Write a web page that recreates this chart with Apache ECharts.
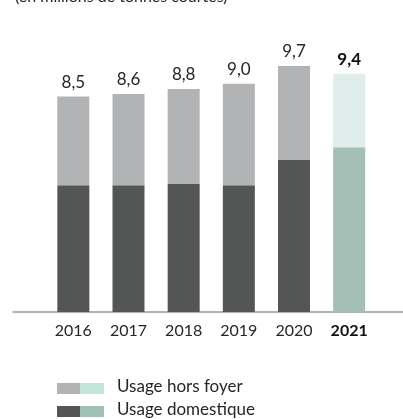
<!DOCTYPE html>
<html>
<head>
<meta charset="utf-8">
<script src="https://cdn.jsdelivr.net/npm/echarts@6/dist/echarts.min.js"></script>
<style>
  html, body { margin: 0; padding: 0; background: #ffffff; }
  #chart { width: 403px; height: 419px; }
</style>
</head>
<body>
<div id="chart"></div>
<script>
// Consommation en millions de tonnes courtes
const years = ['2016', '2017', '2018', '2019', '2020', '2021'];
const totals = [8.5, 8.6, 8.8, 9.0, 9.7, 9.4];
const domestique = [5.0, 5.0, 5.05, 5.0, 6.0, 6.5];
const horsFoyer = [3.5, 3.6, 3.75, 4.0, 3.7, 2.9];
const unitTitle = '(en millions de tonnes courtes)';
const nameHors = 'Usage hors foyer';
const nameDom = 'Usage domestique';

const FONT = 'Lato, "Open Sans", sans-serif';
const TEXT = '#262626';
const lastIdx = years.length - 1;

const COLORS = {
  dom: '#545655',
  hors: '#b2b3b5',
  dom21: '#a3bfb6',
  hors21: '#e0eeeb',
  legendHors21: '#c4e5dc',
  legendDom21: '#a1c1b7'
};

// Past years in greys, the latest year in soft greens
const pastOnly = arr => arr.map((v, i) => (i < lastIdx ? v : '-'));
const lastOnly = arr => arr.map((v, i) => (i === lastIdx ? v : '-'));
const fmt = v => v.toFixed(1).replace('.', ',');

const chart = echarts.init(document.getElementById('chart'), null, { renderer: 'canvas' });

const gridPos = { top: 58.5, bottom: 107 };

// Legend key: paired swatch (past years / 2021) followed by the label
function legendRow(y, c1, c2, label) {
  return [
    { type: 'rect', left: 57, top: y, shape: { width: 23, height: 11 }, style: { fill: c1 } },
    { type: 'rect', left: 80, top: y, shape: { width: 24, height: 11 }, style: { fill: c2 } },
    {
      type: 'text', left: 117, top: y - 5,
      style: { text: label, fill: TEXT, font: '17px ' + FONT }
    }
  ];
}

chart.setOption({
  animation: false,
  backgroundColor: '#ffffff',
  title: {
    text: unitTitle,
    left: 10,
    top: -16,
    textStyle: { fontFamily: FONT, fontSize: 16, fontWeight: 'normal', color: TEXT }
  },
  grid: [
    { left: 45.75, right: 26.25, top: gridPos.top, bottom: gridPos.bottom },
    { left: 13, right: 0, top: gridPos.top, bottom: gridPos.bottom }
  ],
  xAxis: [
    {
      type: 'category',
      gridIndex: 0,
      data: years,
      axisLine: { show: false },
      axisTick: { show: false },
      axisLabel: {
        interval: 0,
        margin: 11,
        fontFamily: FONT,
        fontSize: 16,
        color: TEXT,
        formatter: (v, i) => (i === lastIdx ? '{b|' + v + '}' : v),
        rich: { b: { fontFamily: FONT, fontSize: 16, fontWeight: 'bold', color: '#111' } }
      }
    },
    {
      type: 'value',
      gridIndex: 1,
      min: 0,
      max: 1,
      axisLine: { show: true, lineStyle: { color: '#9c9c9c', width: 1.5 } },
      axisTick: { show: false },
      axisLabel: { show: false },
      splitLine: { show: false }
    }
  ],
  yAxis: [
    { type: 'value', gridIndex: 0, min: 0, max: 10, show: false },
    { type: 'value', gridIndex: 1, min: 0, max: 1, show: false }
  ],
  graphic: [
    ...legendRow(383, COLORS.hors, COLORS.legendHors21, nameHors),
    ...legendRow(406, COLORS.dom, COLORS.legendDom21, nameDom)
  ],
  series: [
    {
      name: nameDom,
      type: 'bar',
      stack: 'total',
      barWidth: 32,
      itemStyle: { color: COLORS.dom },
      data: pastOnly(domestique)
    },
    {
      name: nameHors,
      type: 'bar',
      stack: 'total',
      barWidth: 32,
      itemStyle: { color: COLORS.hors },
      data: pastOnly(horsFoyer),
      label: {
        show: true,
        position: 'top',
        distance: 6,
        fontFamily: FONT,
        fontSize: 17,
        color: TEXT,
        formatter: p => fmt(totals[p.dataIndex])
      }
    },
    {
      name: nameDom + ' 2021',
      type: 'bar',
      stack: 'total',
      barWidth: 32,
      itemStyle: { color: COLORS.dom21 },
      data: lastOnly(domestique)
    },
    {
      name: nameHors + ' 2021',
      type: 'bar',
      stack: 'total',
      barWidth: 32,
      itemStyle: { color: COLORS.hors21 },
      data: lastOnly(horsFoyer),
      label: {
        show: true,
        position: 'top',
        distance: 6,
        fontFamily: FONT,
        fontSize: 17,
        fontWeight: 'bold',
        color: '#111',
        formatter: p => fmt(totals[p.dataIndex])
      }
    }
  ]
});
</script>
</body>
</html>
